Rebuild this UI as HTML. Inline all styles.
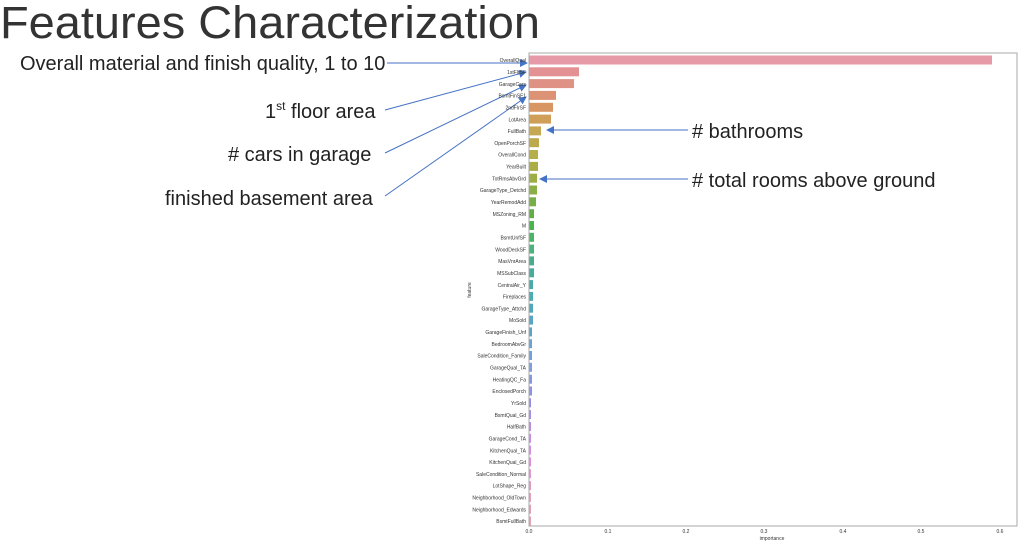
<!DOCTYPE html>
<html><head><meta charset="utf-8"><style>
html,body{margin:0;padding:0;background:#fff;width:1024px;height:545px;overflow:hidden}
svg{display:block}
.t{font-family:"Liberation Sans",sans-serif;fill:#222}
.lab{font-family:"Liberation Sans",sans-serif;font-size:5px;fill:#333;text-anchor:end}
.tk{font-family:"Liberation Sans",sans-serif;font-size:5px;fill:#333;text-anchor:middle}
</style></head><body>
<svg width="1024" height="545" viewBox="0 0 1024 545" xmlns="http://www.w3.org/2000/svg">
<defs><marker id="ah" markerWidth="8" markerHeight="8" refX="7" refY="4" orient="auto" markerUnits="userSpaceOnUse"><path d="M0,0 L8,4 L0,8 z" fill="#4472c4"/></marker></defs>
<text class="t" x="0" y="38" font-size="45" textLength="540" lengthAdjust="spacingAndGlyphs" style="fill:#333">Features Characterization</text>
<text class="t" x="20" y="70" font-size="20">Overall material and finish quality, 1 to 10</text>
<text class="t" x="265" y="118" font-size="20">1<tspan font-size="12" dy="-8">st</tspan><tspan dy="8"> floor area</tspan></text>
<text class="t" x="228" y="161" font-size="20"># cars in garage</text>
<text class="t" x="165" y="205" font-size="20">finished basement area</text>
<text class="t" x="692" y="138" font-size="20"># bathrooms</text>
<text class="t" x="692" y="187" font-size="20"># total rooms above ground</text>
<g stroke="#4472c4" stroke-width="1" fill="none">
<line x1="387" y1="63" x2="527" y2="63" marker-end="url(#ah)"/>
<line x1="385" y1="110" x2="526" y2="72" marker-end="url(#ah)"/>
<line x1="385" y1="153" x2="526" y2="85" marker-end="url(#ah)"/>
<line x1="385" y1="196" x2="526" y2="97" marker-end="url(#ah)"/>
<line x1="688" y1="130" x2="547" y2="130" marker-end="url(#ah)"/>
<line x1="688" y1="179" x2="540" y2="179" marker-end="url(#ah)"/>
</g>
<g id="bars">
<rect x="529" y="55.5" width="463" height="9" fill="hsl(350,60%,75%)"/>
<rect x="529" y="67.3" width="50" height="9" fill="hsl(359,60%,73%)"/>
<rect x="529" y="79.1" width="45" height="9" fill="hsl(8,60%,70%)"/>
<rect x="529" y="90.9" width="27" height="9" fill="hsl(17,60%,66%)"/>
<rect x="529" y="102.8" width="24" height="9" fill="hsl(26,60%,62%)"/>
<rect x="529" y="114.6" width="22" height="9" fill="hsl(35,55%,58%)"/>
<rect x="529" y="126.4" width="12" height="9" fill="hsl(44,50%,55%)"/>
<rect x="529" y="138.2" width="10" height="9" fill="hsl(50,45%,52%)"/>
<rect x="529" y="150.0" width="9" height="9" fill="hsl(56,42%,50%)"/>
<rect x="529" y="161.9" width="9" height="9" fill="hsl(62,42%,48%)"/>
<rect x="529" y="173.7" width="8" height="9" fill="hsl(70,42%,48%)"/>
<rect x="529" y="185.5" width="8" height="9" fill="hsl(80,42%,48%)"/>
<rect x="529" y="197.3" width="7" height="9" fill="hsl(92,42%,48%)"/>
<rect x="529" y="209.2" width="5" height="9" fill="hsl(105,42%,48%)"/>
<rect x="529" y="221.0" width="5" height="9" fill="hsl(120,40%,50%)"/>
<rect x="529" y="232.8" width="5" height="9" fill="hsl(135,40%,50%)"/>
<rect x="529" y="244.6" width="5" height="9" fill="hsl(148,40%,50%)"/>
<rect x="529" y="256.4" width="5" height="9" fill="hsl(160,40%,48%)"/>
<rect x="529" y="268.3" width="5" height="9" fill="hsl(170,40%,48%)"/>
<rect x="529" y="280.1" width="4" height="9" fill="hsl(178,40%,48%)"/>
<rect x="529" y="291.9" width="4" height="9" fill="hsl(184,40%,50%)"/>
<rect x="529" y="303.7" width="4" height="9" fill="hsl(190,42%,52%)"/>
<rect x="529" y="315.6" width="4" height="9" fill="hsl(196,45%,55%)"/>
<rect x="529" y="327.4" width="3" height="9" fill="hsl(202,50%,58%)"/>
<rect x="529" y="339.2" width="3" height="9" fill="hsl(208,55%,62%)"/>
<rect x="529" y="351.0" width="3" height="9" fill="hsl(214,60%,65%)"/>
<rect x="529" y="362.8" width="3" height="9" fill="hsl(220,60%,68%)"/>
<rect x="529" y="374.7" width="3" height="9" fill="hsl(228,60%,70%)"/>
<rect x="529" y="386.5" width="3" height="9" fill="hsl(236,60%,72%)"/>
<rect x="529" y="398.3" width="2" height="9" fill="hsl(246,60%,72%)"/>
<rect x="529" y="410.1" width="2" height="9" fill="hsl(258,60%,72%)"/>
<rect x="529" y="422.0" width="2" height="9" fill="hsl(270,60%,72%)"/>
<rect x="529" y="433.8" width="2" height="9" fill="hsl(282,60%,72%)"/>
<rect x="529" y="445.6" width="2" height="9" fill="hsl(292,60%,72%)"/>
<rect x="529" y="457.4" width="2" height="9" fill="hsl(302,60%,72%)"/>
<rect x="529" y="469.2" width="2" height="9" fill="hsl(312,55%,74%)"/>
<rect x="529" y="481.1" width="2" height="9" fill="hsl(322,55%,75%)"/>
<rect x="529" y="492.9" width="2" height="9" fill="hsl(330,55%,76%)"/>
<rect x="529" y="504.7" width="2" height="9" fill="hsl(338,55%,76%)"/>
<rect x="529" y="516.5" width="2" height="9" fill="hsl(345,55%,77%)"/>
</g>
<g class="lab">
<text x="526" y="62">OverallQual</text>
<text x="526" y="74">1stFlrSF</text>
<text x="526" y="85.8">GarageCars</text>
<text x="526" y="97.6">BsmtFinSF1</text>
<text x="526" y="109.4">2ndFlrSF</text>
<text x="526" y="121.3">LotArea</text>
<text x="526" y="133.1">FullBath</text>
<text x="526" y="144.9">OpenPorchSF</text>
<text x="526" y="156.7">OverallCond</text>
<text x="526" y="168.5">YearBuilt</text>
<text x="526" y="180.4">TotRmsAbvGrd</text>
<text x="526" y="192.2">GarageType_Detchd</text>
<text x="526" y="204">YearRemodAdd</text>
<text x="526" y="215.8">MSZoning_RM</text>
<text x="526" y="227.7">M</text>
<text x="526" y="239.5">BsmtUnfSF</text>
<text x="526" y="251.3">WoodDeckSF</text>
<text x="526" y="263.1">MasVnrArea</text>
<text x="526" y="274.9">MSSubClass</text>
<text x="526" y="286.8">CentralAir_Y</text>
<text x="526" y="298.6">Fireplaces</text>
<text x="526" y="310.4">GarageType_Attchd</text>
<text x="526" y="322.2">MoSold</text>
<text x="526" y="334.1">GarageFinish_Unf</text>
<text x="526" y="345.9">BedroomAbvGr</text>
<text x="526" y="357.7">SaleCondition_Family</text>
<text x="526" y="369.5">GarageQual_TA</text>
<text x="526" y="381.3">HeatingQC_Fa</text>
<text x="526" y="393.2">EnclosedPorch</text>
<text x="526" y="405">YrSold</text>
<text x="526" y="416.8">BsmtQual_Gd</text>
<text x="526" y="428.6">HalfBath</text>
<text x="526" y="440.5">GarageCond_TA</text>
<text x="526" y="452.3">KitchenQual_TA</text>
<text x="526" y="464.1">KitchenQual_Gd</text>
<text x="526" y="475.9">SaleCondition_Normal</text>
<text x="526" y="487.7">LotShape_Reg</text>
<text x="526" y="499.6">Neighborhood_OldTown</text>
<text x="526" y="511.4">Neighborhood_Edwards</text>
<text x="526" y="523.2">BsmtFullBath</text>
</g>
<rect x="529" y="53" width="488" height="473" fill="none" stroke="#aaa" stroke-width="1"/>
<g class="tk">
<text x="529" y="533">0.0</text><text x="608" y="533">0.1</text><text x="686" y="533">0.2</text><text x="764" y="533">0.3</text><text x="843" y="533">0.4</text><text x="921" y="533">0.5</text><text x="1000" y="533">0.6</text>
<text x="772" y="540">importance</text>
<text transform="translate(471,290) rotate(-90)">feature</text>
</g>
</svg>
</body></html>
